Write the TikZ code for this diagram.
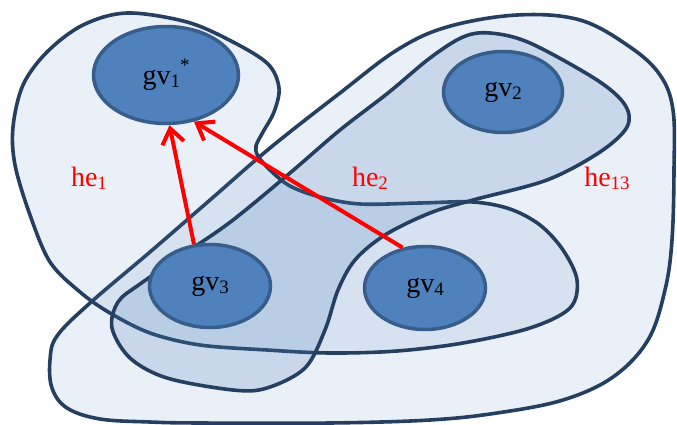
\documentclass[tikz,border=0pt]{standalone}
\usepackage{fontspec}
\setmainfont{Liberation Serif}
\usetikzlibrary{arrows.meta,shapes.geometric}
\definecolor{edgeblue}{RGB}{36,63,96}
\definecolor{nodefill}{RGB}{79,129,189}
\definecolor{nodeline}{RGB}{56,93,138}
\definecolor{hefill}{RGB}{79,129,189}
\newcommand{\sbs}[1]{\raisebox{-3pt}{\fontsize{19}{19}\selectfont #1}}
\begin{document}
\begin{tikzpicture}[x=1pt,y=-1pt,
  hyper/.style={draw=edgeblue, line width=3.6pt, fill=hefill, fill opacity=0.12},
  hyperdense/.style={hyper, fill opacity=0.22},
  gnode/.style={ellipse, draw=nodeline, line width=3.5pt, fill=nodefill, inner sep=0pt, font=\fontsize{28}{28}\selectfont, text=black},
  relarrow/.style={draw=red, line width=4pt, -{Straight Barb[length=15pt,width=22pt]}},
  helabel/.style={text=red, anchor=base, font=\fontsize{28}{28}\selectfont}]
\useasboundingbox (0,0) rectangle (677,425);
% he13
\draw[hyper] plot[smooth cycle, tension=0.6] coordinates {
  (517,15) (580,20) (630,47) (660,75) (673,110) (674,170) (672,240) (665,290)
  (648,340) (613,377) (563,400) (497,413) (430,420) (330,423) (200,423) (150,422)
  (100,419) (67,408) (52,388) (50,360) (57,336) (90,303) (150,252) (210,200)
  (270,148) (340,93) (397,50) (447,27)};
% he1
\draw[hyper] plot[smooth cycle, tension=0.55] coordinates {
  (127,13) (187,22) (233,42) (268,64) (279,88) (274,112) (263,132) (256,146)
  (258,156) (270,170) (290,186) (320,197) (360,204) (420,203) (473,202) (510,209)
  (540,225) (563,250) (577,280) (570,308) (530,328) (463,343) (397,351) (330,353)
  (267,350) (200,345) (150,333) (110,313) (80,292) (50,262) (30,215) (15,165)
  (13,127) (23,85) (47,52) (83,25)};
% he2
\draw[hyperdense] plot[smooth cycle, tension=0.55] coordinates {
  (463,37) (490,33) (530,43) (597,80) (625,105) (627,127) (600,152) (547,180)
  (473,200) (430,213) (385,235) (355,260) (338,290) (325,330) (305,368) (267,388)
  (233,390) (167,378) (130,358) (112,328) (118,302) (140,284) (190,250) (233,220)
  (290,173) (340,130) (388,93) (430,58)};
% nodes
\node[gnode, minimum width=145pt, minimum height=97pt] (gv1) at (166,75)
  {gv\sbs{1}\raisebox{13pt}{\fontsize{19}{19}\selectfont *}};
\node[gnode, minimum width=119pt, minimum height=81pt] (gv2) at (503,92) {gv\sbs{2}};
\node[gnode, minimum width=121pt, minimum height=83pt] (gv3) at (210,286) {gv\sbs{3}};
\node[gnode, minimum width=121pt, minimum height=83pt] (gv4) at (425,288) {gv\sbs{4}};
% arrows
\draw[relarrow] (gv3.111.6) -- (gv1.274.4);
\draw[relarrow] (gv4.119.9) -- (gv1.301.6);
% labels
\node[helabel] (he1) at (89,186) {he\sbs{1}};
\node[helabel] (he2) at (370,186) {he\sbs{2}};
\node[helabel] (he13) at (607,186) {he\sbs{13}};
\end{tikzpicture}
\end{document}
